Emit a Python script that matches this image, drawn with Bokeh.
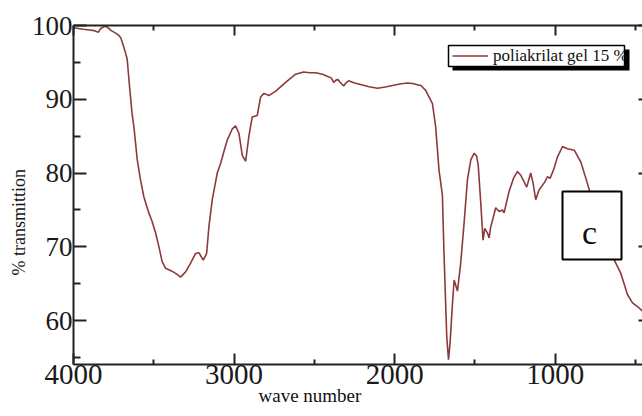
from bokeh.plotting import figure
from bokeh.models import (Range1d, LinearAxis, FixedTicker, Legend, LegendItem,
                          BoxAnnotation, Label, Title)
from bokeh.embed import file_html
from bokeh.resources import INLINE

# ---- data ----
wavenumber = [4000, 3970, 3940, 3900, 3870, 3845, 3830, 3815, 3800, 3785, 3765, 3740,
              3720, 3705, 3687, 3666, 3650, 3635, 3624, 3603, 3583, 3562, 3531, 3515,
              3510, 3489, 3468, 3448, 3427, 3396, 3380, 3364, 3333, 3302, 3271, 3240,
              3219, 3192, 3171, 3157, 3136, 3105, 3084, 3060, 3042, 3011, 2991, 2970,
              2949, 2928, 2908, 2887, 2856, 2835, 2814, 2783, 2741, 2679, 2617, 2567,
              2530, 2492, 2450, 2417, 2395, 2380, 2365, 2355, 2340, 2318, 2300, 2287,
              2250, 2212, 2160, 2106, 2050, 2006, 1960, 1919, 1880, 1850, 1838, 1807,
              1765, 1745, 1724, 1703, 1693, 1676, 1665, 1655, 1640, 1630, 1609, 1589,
              1568, 1547, 1526, 1505, 1490, 1480, 1464, 1450, 1439, 1423, 1412, 1402,
              1391, 1371, 1350, 1329, 1319, 1288, 1260, 1236, 1215, 1178, 1153, 1138,
              1122, 1101, 1065, 1049, 1032, 1010, 986, 955, 924, 882, 841, 800, 760,
              720, 680, 637, 592, 550, 519, 488, 457]
transmission = [99.7, 99.6, 99.5, 99.4, 99.3, 99.1, 99.6, 99.8, 99.9, 99.7, 99.3, 99.0,
                98.7, 98.3, 97.1, 95.5, 91.5, 88.0, 86.3, 81.8, 79.1, 76.8, 74.6, 73.7,
                73.4, 71.9, 70.0, 68.0, 67.1, 66.8, 66.6, 66.4, 65.9, 66.6, 67.8, 69.1,
                69.2, 68.2, 69.1, 72.7, 76.4, 80.0, 81.3, 83.2, 84.5, 86.0, 86.4, 85.4,
                82.4, 81.6, 85.0, 87.6, 87.8, 90.3, 90.8, 90.5, 91.1, 92.3, 93.4, 93.7,
                93.6, 93.6, 93.4, 93.1, 92.9, 92.3, 92.6, 92.7, 92.3, 91.8, 92.3, 92.5,
                92.2, 92.0, 91.7, 91.5, 91.7, 91.9, 92.1, 92.2, 92.1, 91.9, 91.9, 91.2,
                89.4, 86.3, 80.4, 77.0, 69.1, 57.9, 54.7, 57.0, 62.4, 65.5, 64.0, 67.8,
                73.2, 79.1, 81.8, 82.7, 82.3, 81.1, 75.9, 70.9, 72.5, 71.9, 71.2, 72.7,
                73.6, 75.3, 74.8, 75.0, 74.6, 77.5, 79.3, 80.2, 79.7, 78.1, 80.0, 78.6,
                76.4, 77.7, 78.8, 79.5, 79.3, 80.5, 82.2, 83.6, 83.3, 83.1, 81.5, 78.6,
                75.5, 72.5, 70.0, 68.4, 66.4, 63.5, 62.4, 61.9, 61.3]

x_major_ticks = [4000, 3000, 2000, 1000]
x_minor_ticks = [3500, 2500, 1500, 500]
y_major_ticks = [60, 70, 80, 90, 100]
y_minor_ticks = [55, 65, 75, 85, 95]
series_label = "poliakrilat gel 15 %"
x_title = "wave number"
y_title = "% transmittion"
panel_tag = "c"

FONT = "Liberation Serif"
LINE_COLOR = "#8b3a3c"

p = figure(width=642, height=416, output_backend="svg", toolbar_location=None,
           x_range=Range1d(4000, 457), y_range=Range1d(54.05, 100),
           x_axis_type=None, y_axis_type=None,
           min_border_left=73, min_border_right=0, min_border_top=25, min_border_bottom=52)
p.outline_line_color = None
p.background_fill_color = "white"
p.border_fill_color = "white"

xt = FixedTicker(ticks=x_major_ticks, minor_ticks=x_minor_ticks)
yt = FixedTicker(ticks=y_major_ticks, minor_ticks=y_minor_ticks)

def style(ax, major_in, minor_in, font_size, standoff):
    ax.major_tick_in = major_in
    ax.major_tick_out = 0
    ax.minor_tick_in = minor_in
    ax.minor_tick_out = 0
    ax.axis_line_width = 2
    ax.axis_line_color = "#222222"
    ax.major_tick_line_width = 2
    ax.minor_tick_line_width = 2
    ax.major_tick_line_color = "#222222"
    ax.minor_tick_line_color = "#222222"
    ax.major_label_text_font = FONT
    ax.major_label_text_font_size = font_size
    ax.major_label_text_color = "#1a1a1a"
    ax.major_label_standoff = standoff

bottom = LinearAxis(ticker=xt)
style(bottom, 11, 5, "29px", 0)
p.add_layout(bottom, "below")

# frame ticks on top and right, without labels
top = LinearAxis(ticker=xt)
style(top, 10, 5, "8px", 0)
top.major_label_overrides = {t: "" for t in x_major_ticks}
p.add_layout(top, "above")

left = LinearAxis(ticker=yt)
style(left, 13, 7, "27px", 1)
p.add_layout(left, "left")

right = LinearAxis(ticker=yt)
style(right, 4, 0, "8px", 0)
right.major_label_overrides = {t: "" for t in y_major_ticks}
right.axis_line_alpha = 0
p.add_layout(right, "right")

# axis titles as side-panel titles
p.add_layout(Title(text=x_title, align="left", offset=185, standoff=-4,
                   vertical_align="top",
                   text_font=FONT, text_font_size="19px", text_font_style="normal",
                   text_color="#111111"), "below")
p.add_layout(Title(text=y_title, align="left", offset=89, standoff=0,
                   text_font=FONT, text_font_size="18px", text_font_style="normal",
                   text_color="#111111"), "left")

r = p.line(wavenumber, transmission, line_color=LINE_COLOR, line_width=1.6)

def sbox(l, rr, t, b, **kw):
    return BoxAnnotation(left=l, right=rr, top=t, bottom=b,
                         left_units="screen", right_units="screen",
                         top_units="screen", bottom_units="screen", **kw)

# legend box with drop shadow
p.add_layout(sbox(379, 556, 315, 294, fill_color="black", fill_alpha=1, line_alpha=0))
p.add_layout(sbox(375, 551, 319, 298, fill_color="white", fill_alpha=1,
                  line_color="black", line_alpha=1, line_width=1.5))
legend = Legend(items=[LegendItem(label=series_label, renderers=[r])],
                location=(379, 298), padding=0, margin=0, spacing=0,
                glyph_width=36, glyph_height=21, label_height=21, label_standoff=5,
                label_text_font=FONT, label_text_font_size="17px",
                label_text_color="#111111", label_text_baseline="middle",
                border_line_alpha=0, background_fill_alpha=0)
p.add_layout(legend)

# panel tag box "c"
p.add_layout(sbox(489, 548, 173, 105, fill_color="white", fill_alpha=1,
                  line_color="black", line_alpha=1, line_width=2))
p.add_layout(Label(x=516, y=132, x_units="screen", y_units="screen", text=panel_tag,
                   text_font=FONT, text_font_size="34px", text_color="#111111",
                   text_align="center", text_baseline="alphabetic"))

open("out.html", "w").write(file_html(p, INLINE))
